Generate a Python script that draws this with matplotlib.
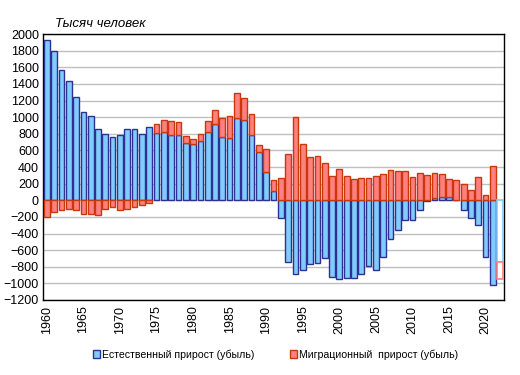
import numpy as np
import matplotlib
matplotlib.use("Agg")
import matplotlib.pyplot as plt
from matplotlib.patches import Patch

plt.rcParams['font.family'] = ['Liberation Sans', 'DejaVu Sans']

# годы и значения, тысяч человек
years = list(range(1960, 2022))
natural = [1925, 1792, 1564, 1432, 1239, 1059, 1010, 854, 794, 758,
           782, 854, 854, 794, 878, 806, 818, 782, 782, 686,
           674, 710, 818, 914, 758, 746, 986, 962, 782, 577,
           337, 108, -217, -746, -890, -842, -770, -758, -698, -926,
           -950, -938, -938, -890, -794, -842, -686, -469, -361, -241,
           -241, -120, -4, 24, 36, 36, -2, -120, -217, -301,
           -686, -1023]
migration = [-205, -144, -120, -100, -112, -168, -160, -181, -108, -84,
             -120, -108, -84, -60, -36, 108, 144, 168, 156, 84,
             60, 88, 132, 169, 228, 264, 301, 265, 253, 88,
             277, 133, 265, 553, 999, 674, 517, 529, 445, 289,
             373, 289, 253, 265, 265, 289, 313, 361, 349, 349,
             277, 325, 305, 301, 277, 217, 243, 193, 120, 277,
             60, 409]

# 2022 - предварительные данные (контурные столбцы)
year_prelim = 2022
natural_prelim = -744
migration_prelim = -206

x_labels = list(range(1960, 2021, 5))

n = np.array(natural)
m = np.array(migration)
x = np.arange(len(years))
# накопление как в Excel: положительные и отрицательные отдельно
m_bottom = np.where(np.sign(m) == np.sign(n), n, 0)

fig = plt.figure(figsize=(5.2, 3.75), dpi=100)
ax = fig.add_axes([0.083, 0.2, 0.886, 0.709])

blue_face = '#80CCFF'
blue_edge = '#2E3192'
red_face = '#FF8080'
red_edge = '#C8380A'

ax.bar(x, n, width=0.78, color=blue_face, edgecolor=blue_edge, linewidth=1.0, zorder=3)
ax.bar(x, m, bottom=m_bottom, width=0.78, color=red_face, edgecolor=red_edge, linewidth=1.0, zorder=3)

xp = len(years)
ax.bar(xp, natural_prelim, width=0.78, color='white', edgecolor='#80CCFF', linewidth=1.2, zorder=3)
ax.bar(xp, migration_prelim, bottom=natural_prelim, width=0.78, color='white',
       edgecolor='#FF8080', linewidth=1.2, zorder=3)

ax.set_xlim(-0.5, len(years) + 0.5)
ax.set_ylim(-1200, 2000)
ax.set_yticks(range(-1200, 2001, 200))
ax.yaxis.grid(True, color='#C0C0C0', linewidth=1.0, zorder=0)
ax.set_axisbelow(True)

ax.set_xticks([years.index(y) for y in x_labels])
ax.set_xticklabels([str(y) for y in x_labels], rotation=90, fontsize=9)
ax.tick_params(axis='y', labelsize=9, length=0, pad=3)
ax.tick_params(axis='x', length=0, pad=4)

for s in ax.spines.values():
    s.set_color('black')
    s.set_linewidth(1.0)

fig.text(0.105, 0.927, 'Тысяч человек', fontsize=9.5, style='italic')

handles = [Patch(facecolor=blue_face, edgecolor=blue_edge, label='Естественный прирост (убыль)'),
           Patch(facecolor=red_face, edgecolor=red_edge, label='Миграционный  прирост (убыль)')]
fig.legend(handles=handles, loc='center', bbox_to_anchor=(0.53, 0.055), ncol=2, frameon=False,
           fontsize=7.6, handlelength=0.7, handleheight=0.7, handletextpad=0.2, columnspacing=3.3)

fig.savefig('out.png', dpi=100)
